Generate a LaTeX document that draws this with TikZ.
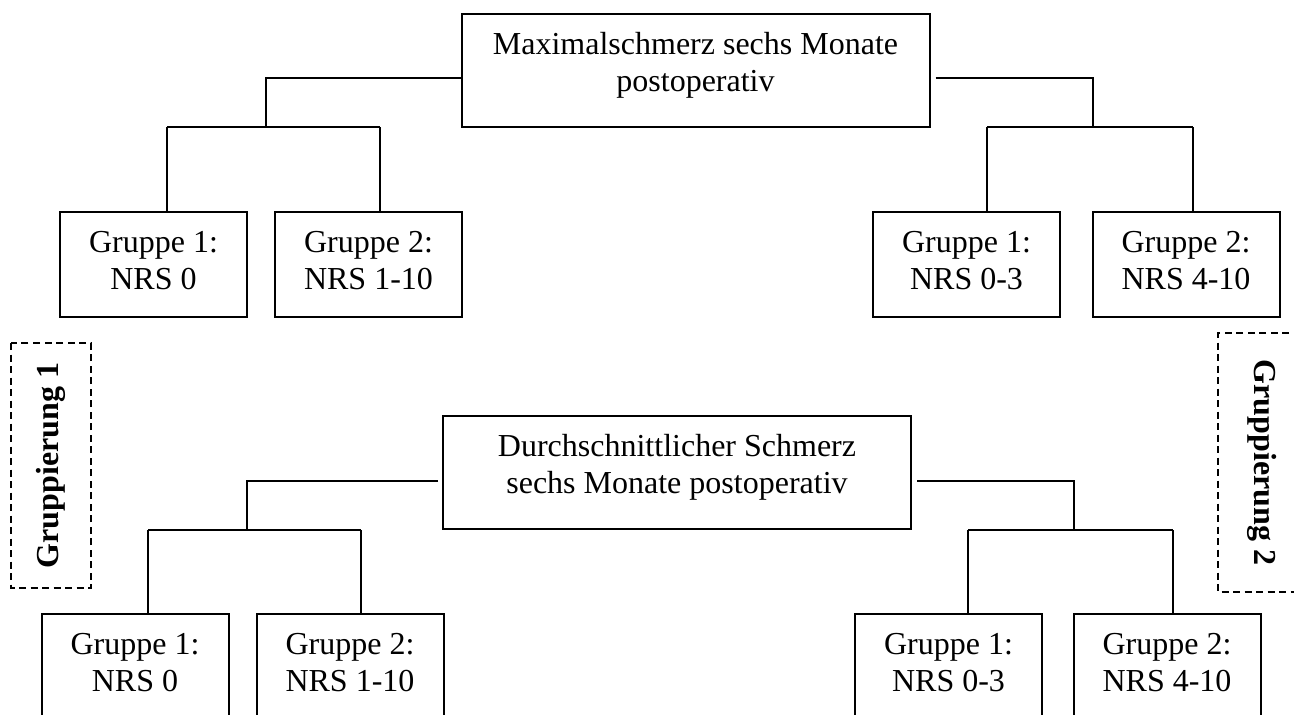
\documentclass[tikz,border=0pt]{standalone}
\usepackage{fontspec}
\setmainfont{Liberation Serif}
\begin{document}
\begin{tikzpicture}[x=1pt,y=-1pt,line width=2pt,
  every node/.style={font=\fontsize{32}{37}\selectfont},
  bigbox/.style={draw,align=center,inner sep=0pt,minimum width=468pt,minimum height=113pt},
  grpbox/.style={draw,align=center,inner sep=0pt,minimum width=187pt,minimum height=105pt},
  dashbox/.style={draw,dash pattern=on 7pt off 4.5pt,line width=1.6pt,inner sep=0pt,font=\fontsize{32}{37}\selectfont\bfseries},
  conn/.style={draw,line width=2pt}]
\useasboundingbox (0,0) rectangle (1294,715);
\clip (0,0) rectangle (1294,715);
% top tree
\node[bigbox] (top) at (695.5,70) {Maximalschmerz sechs Monate\\postoperativ\rule[-17pt]{0pt}{17pt}};
\node[grpbox] (tg1) at (153.5,264.5) {Gruppe 1:\\NRS 0\rule[-8pt]{0pt}{8pt}};
\node[grpbox] (tg2) at (368.5,264.5) {Gruppe 2:\\NRS 1-10\rule[-8pt]{0pt}{8pt}};
\node[grpbox] (tg3) at (966.5,264.5) {Gruppe 1:\\NRS 0-3\rule[-8pt]{0pt}{8pt}};
\node[grpbox] (tg4) at (1186,264.5) {Gruppe 2:\\NRS 4-10\rule[-8pt]{0pt}{8pt}};
% bottom tree
\node[bigbox] (bot) at (677,472.5) {Durchschnittlicher Schmerz\\sechs Monate postoperativ\rule[-17pt]{0pt}{17pt}};
\node[grpbox] (bg1) at (135,666.5) {Gruppe 1:\\NRS 0\rule[-8pt]{0pt}{8pt}};
\node[grpbox] (bg2) at (350,666.5) {Gruppe 2:\\NRS 1-10\rule[-8pt]{0pt}{8pt}};
\node[grpbox] (bg3) at (948.5,666.5) {Gruppe 1:\\NRS 0-3\rule[-8pt]{0pt}{8pt}};
\node[grpbox] (bg4) at (1167,666.5) {Gruppe 2:\\NRS 4-10\rule[-8pt]{0pt}{8pt}};
% grouping labels
\node[dashbox,rotate=90,minimum width=245pt,minimum height=80pt] (gr1) at (51,465.5) {Gruppierung 1};
\node[dashbox,rotate=-90,minimum width=259pt,minimum height=88pt] (gr2) at (1262,462.5) {Gruppierung 2};
% junction coordinates, top tree
\coordinate (tlA) at (266,78);
\coordinate (tlB) at (266,127);
\coordinate (tlL) at (167,127);
\coordinate (tlR) at (380,127);
\coordinate (trA) at (1093,78);
\coordinate (trB) at (1093,127);
\coordinate (trL) at (987,127);
\coordinate (trR) at (1193,127);
% junction coordinates, bottom tree
\coordinate (blA) at (247,481);
\coordinate (blB) at (247,530);
\coordinate (blL) at (148,530);
\coordinate (blR) at (361,530);
\coordinate (brA) at (1074,481);
\coordinate (brB) at (1074,530);
\coordinate (brL) at (968,530);
\coordinate (brR) at (1173,530);
% connectors top
\draw[conn] (tlA -| top.west) -- (tlA) -- (tlB);
\draw[conn] (tlL) -- (tlR);
\draw[conn] (tlL) -- (tlL |- tg1.north);
\draw[conn] (tlR) -- (tlR |- tg2.north);
\draw[conn,shorten <=5pt] (trA -| top.east) -- (trA) -- (trB);
\draw[conn] (trL) -- (trR);
\draw[conn] (trL) -- (trL |- tg3.north);
\draw[conn] (trR) -- (trR |- tg4.north);
% connectors bottom
\draw[conn,shorten <=4pt] (blA -| bot.west) -- (blA) -- (blB);
\draw[conn] (blL) -- (blR);
\draw[conn] (blL) -- (blL |- bg1.north);
\draw[conn] (blR) -- (blR |- bg2.north);
\draw[conn,shorten <=5pt] (brA -| bot.east) -- (brA) -- (brB);
\draw[conn] (brL) -- (brR);
\draw[conn] (brL) -- (brL |- bg3.north);
\draw[conn] (brR) -- (brR |- bg4.north);
\end{tikzpicture}
\end{document}
